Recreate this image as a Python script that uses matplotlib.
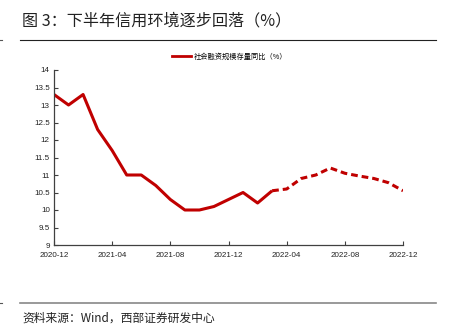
import numpy as np
import matplotlib.pyplot as plt
from matplotlib.lines import Line2D

plt.rcParams['font.family'] = ['Liberation Sans', 'Noto Sans CJK SC', 'DejaVu Sans']

# データ（月次：2020-12 ～ 2022-12）
months = ['2020-12', '2021-01', '2021-02', '2021-03', '2021-04', '2021-05', '2021-06',
          '2021-07', '2021-08', '2021-09', '2021-10', '2021-11', '2021-12',
          '2022-01', '2022-02', '2022-03', '2022-04', '2022-05', '2022-06',
          '2022-07', '2022-08', '2022-09', '2022-10', '2022-11', '2022-12']
actual = [13.3, 13.0, 13.3, 12.3, 11.7, 11.0, 11.0, 10.7, 10.3, 10.0, 10.0, 10.1,
          10.3, 10.5, 10.2, 10.55]
forecast = [10.55, 10.6, 10.9, 11.0, 11.2, 11.05, 10.97, 10.9, 10.78, 10.55]
tick_labels = ['2020-12', '2021-04', '2021-08', '2021-12', '2022-04', '2022-08', '2022-12']

RED = '#C00000'
CJK = ['Noto Sans CJK SC', 'DejaVu Sans']

fig = plt.figure(figsize=(4.54, 3.29), dpi=100)
ax = fig.add_axes([54 / 454, 1 - 245 / 329, 349 / 454, 175 / 329])

x_act = np.arange(len(actual))
x_fc = np.arange(len(actual) - 1, len(actual) - 1 + len(forecast))
ax.plot(x_act, actual, color=RED, lw=2.2, solid_capstyle='butt')
ax.plot(x_fc, forecast, color=RED, lw=2.2, ls=(0, (2.2, 1.3)))

ax.set_xlim(0, len(months) - 1)
ax.set_ylim(9, 14)
ax.set_yticks(np.arange(9, 14.01, 0.5))
ax.set_yticklabels(['%g' % v for v in np.arange(9, 14.01, 0.5)])
ax.set_xticks([months.index(t) for t in tick_labels])
ax.set_xticklabels(tick_labels)

for s in ['top', 'right']:
    ax.spines[s].set_visible(False)
for s in ['left', 'bottom']:
    ax.spines[s].set_color('#404040')
    ax.spines[s].set_linewidth(0.9)
ax.tick_params(direction='in', length=3, width=0.8, color='#404040',
               labelsize=5.8, labelcolor='#222222', pad=3)
ax.tick_params(axis='x', pad=5)

# 凡例
h = Line2D([], [], color=RED, lw=2)
leg = fig.legend([h], ['社会融资规模存量同比（%）'], loc='center',
                 bbox_to_anchor=(230 / 454, 1 - 57 / 329), frameon=False,
                 prop={'family': CJK, 'size': 5.2}, handlelength=2.6,
                 handletextpad=0.4)

# タイトルと出典
fig.text(22 / 454, 1 - 21 / 329, '图 3：下半年信用环境逐步回落（%）',
         family=CJK, fontsize=11.6, color='#222222', va='center', ha='left')
fig.text(22 / 454, 1 - 318 / 329, '资料来源：Wind，西部证券研发中心',
         family=CJK, fontsize=8.5, color='#222222', va='center', ha='left')

fig.add_artist(Line2D([20 / 454, 436 / 454], [1 - 40 / 329] * 2, color='#222222', lw=0.8))
fig.add_artist(Line2D([20 / 454, 436 / 454], [1 - 303 / 329] * 2, color='#888888', lw=1.2))
fig.add_artist(Line2D([0, 2 / 454], [1 - 40 / 329] * 2, color='#555555', lw=0.8))
fig.add_artist(Line2D([0, 2 / 454], [1 - 303 / 329] * 2, color='#555555', lw=0.8))

fig.savefig('out.png', dpi=100)
